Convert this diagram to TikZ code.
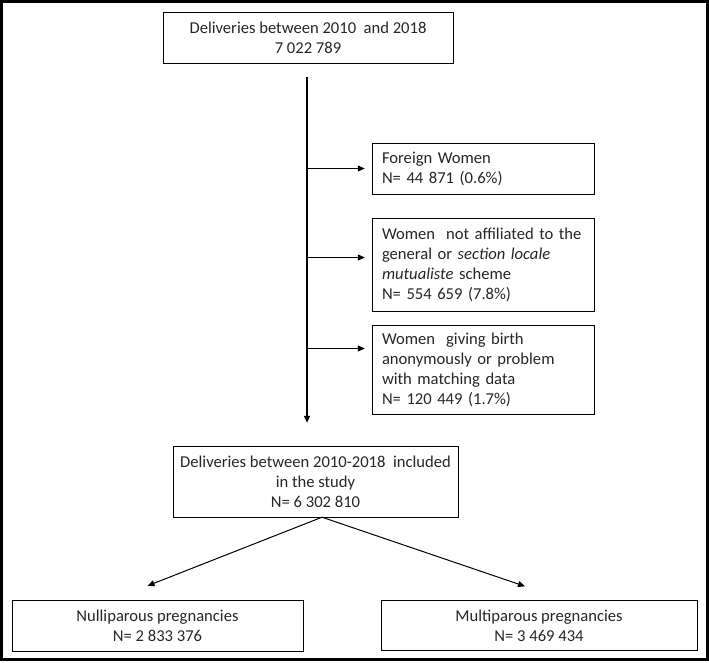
\documentclass[tikz,border=0pt]{standalone}
\usepackage{fontspec}
\setmainfont{Carlito}
\usetikzlibrary{arrows.meta,positioning}
\tikzset{
  flowbox/.style = { draw, thin, text=black!85, inner sep=0pt,
    font=\fontsize{16.6}{20}\selectfont, align=center },
  exclbox/.style = { flowbox, align=left, text width=202pt, inner xsep=10pt },
  >={Triangle[length=7pt,width=6pt]}
}
\begin{document}
\begin{tikzpicture}[x=1pt,y=-1pt,on grid,line width=1pt]
  \useasboundingbox (0,0) rectangle (709,662);
  \draw[line width=3pt] (1.5,1.5) rectangle (707.5,659.5);
  % cohort and exclusions
  \node[flowbox, minimum width=290pt, minimum height=51pt] (all) at (308,37.5)
    {Deliveries between 2010 \ and 2018\\7 022 789};
  \node[exclbox, minimum height=51pt, below right=131pt and 175pt of all] (foreign)
    {Foreign Women\\N= 44 871 (0.6\%)};
  \node[exclbox, minimum height=93pt, below=96pt of foreign] (nonaff)
    {Women \ not affiliated to the\\general or \textit{section locale}\\\textit{mutualiste} scheme\\N= 554 659 (7.8\%)};
  \node[exclbox, minimum height=89pt, below=105pt of nonaff] (anon)
    {Women \ giving birth\\anonymously or problem\\with matching data\\N= 120 449 (1.7\%)};
  \node[flowbox, minimum width=285pt, minimum height=71pt, below right=444pt and 7.5pt of all] (incl)
    {Deliveries between 2010-2018 \ included\\in the study\\N= 6 302 810};
  % parity split
  \node[flowbox, minimum width=291pt, minimum height=51pt, below left=144pt and 158pt of incl] (nulli)
    {Nulliparous pregnancies\\N= 2 833 376};
  \node[flowbox, minimum width=316pt, minimum height=50pt, below right=144pt and 223.5pt of incl] (multi)
    {Multiparous pregnancies\\N= 3 469 434};
  \coordinate (trunk) at (307,77);
  \coordinate (split) at ([xshift=6.5pt]incl.south);
  \draw[->, line width=2pt, shorten >=23pt] (trunk) -- (trunk |- incl.north);
  \draw[->, shorten >=7pt] (trunk |- foreign.west) -- (foreign.west);
  \draw[->, shorten >=7pt] (trunk |- nonaff.west) ++(0,-7) -- ([yshift=7pt]nonaff.west);
  \draw[->, shorten >=7pt] (trunk |- anon.west) ++(0,-21) -- ([yshift=21pt]anon.west);
  \draw[->] (split) -- ([shift={(-10pt,14pt)}]nulli.north);
  \draw[->] (split) -- ([shift={(-14pt,14pt)}]multi.north);
\end{tikzpicture}
\end{document}
